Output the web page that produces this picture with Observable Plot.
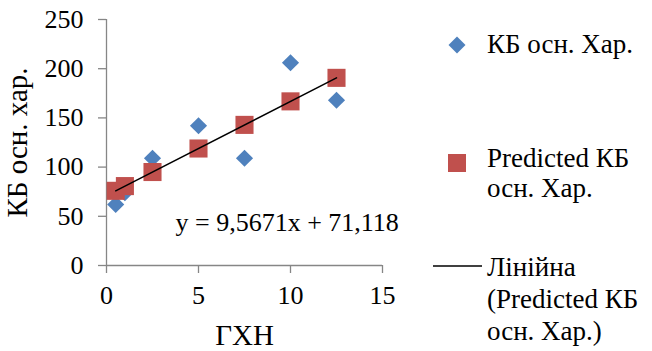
<!DOCTYPE html>
<html><head><meta charset="utf-8">
<script src="https://cdn.jsdelivr.net/npm/d3@7"></script>
<script src="https://cdn.jsdelivr.net/npm/@observablehq/plot@0.6"></script>
<style>
body{margin:0;background:#fff}
#chart svg{display:block}
#chart svg text{font-family:'Liberation Serif','Times New Roman',serif}
</style>
</head><body><div id="chart"></div>
<script>
const xValues = [0.5, 1, 2.5, 5, 7.5, 10, 12.5];
const actualValues = [62, 74, 109, 142, 109, 206, 168];
const predictedValues = [75.9, 80.7, 95.0, 118.9, 142.9, 166.8, 190.7];
const xTicks = [0, 5, 10, 15];
const yTicks = [0, 50, 100, 150, 200, 250];
const seriesNames = ["КБ осн. Хар.", "Predicted КБ осн. Хар.", "Лінійна (Predicted КБ осн. Хар.)"];
const legendLines = [["КБ осн. Хар."], ["Predicted КБ", "осн. Хар."], ["Лінійна", "(Predicted КБ", "осн. Хар.)"]];
const equationText = "y = 9,5671x + 71,118";
const xTitle = "ГХН";
const yTitle = "КБ осн. хар.";

const rows = xValues.map((x, i) => ({x, actual: actualValues[i], predicted: predictedValues[i]}));
const BLUE = "#4f81bd", RED = "#c0504d", AXIS = "#868686";
const FONT = "'Liberation Serif', 'Times New Roman', serif";

const chart = Plot.plot({
  width: 652, height: 351,
  marginLeft: 106, marginRight: 270, marginTop: 19, marginBottom: 86,
  style: {fontFamily: FONT, fontSize: "26px", color: "#000", background: "#fff", overflow: "visible"},
  x: {domain: [0, 15]},
  y: {domain: [0, 250]},
  marks: [
    Plot.axisX({ticks: xTicks, tickSize: 8, stroke: AXIS, strokeWidth: 1.3, strokeOpacity: 1, label: null, tickFormat: () => ""}),
    Plot.axisY({ticks: yTicks, tickSize: 8, stroke: AXIS, strokeWidth: 1.3, strokeOpacity: 1, label: null, tickFormat: () => ""}),
    Plot.text(xTicks, {x: d => d, text: d => String(d), frameAnchor: "bottom", dy: 20, textAnchor: "middle", lineAnchor: "top", fontSize: 26, fontFamily: FONT, fill: "#000"}),
    Plot.text(yTicks, {y: d => d, text: d => String(d), frameAnchor: "left", dx: -23, textAnchor: "end", lineAnchor: "middle", fontSize: 26, fontFamily: FONT, fill: "#000"}),
    Plot.ruleY([0], {stroke: AXIS, strokeWidth: 1.3}),
    Plot.ruleX([0], {stroke: AXIS, strokeWidth: 1.3}),
    Plot.dot(rows, {x: "x", y: "actual", symbol: "diamond2", r: 7.7, fill: BLUE, stroke: "none"}),
    Plot.dot(rows, {x: "x", y: "predicted", symbol: "square", r: 10.2, fill: RED, stroke: "none"}),
    Plot.linearRegressionY(rows, {x: "x", y: "predicted", stroke: "#000", strokeWidth: 1.5, ci: 0}),
    Plot.text([equationText], {x: 3.75, y: 44, text: d => d, textAnchor: "start", lineAnchor: "middle", fontSize: 26, fontFamily: FONT, fill: "#000"}),
    Plot.text([xTitle], {frameAnchor: "bottom", dy: 70, text: d => d, textAnchor: "middle", lineAnchor: "middle", fontSize: 29, fontFamily: FONT, fill: "#000"}),
    Plot.text([yTitle], {frameAnchor: "left", dx: -89, rotate: -90, text: d => d, textAnchor: "middle", lineAnchor: "middle", fontSize: 29, fontFamily: FONT, fill: "#000"})
  ]
});
document.getElementById("chart").appendChild(chart);

// Legend
const svg = d3.select(chart);
const lg = svg.append("g").attr("font-family", FONT).attr("font-size", 27).attr("fill", "#000").attr("text-anchor", "start");
const textX = 487;
const baselines = [[53], [167, 197], [276, 308, 340]];
lg.append("path").attr("d", d3.symbol(d3.symbolDiamond2, 185)()).attr("transform", "translate(457,45)").attr("fill", BLUE);
lg.append("path").attr("d", d3.symbol(d3.symbolSquare, 324)()).attr("transform", "translate(457,163)").attr("fill", RED);
lg.append("line").attr("x1", 433).attr("x2", 482).attr("y1", 266).attr("y2", 266).attr("stroke", "#000").attr("stroke-width", 1.5);
legendLines.forEach((lines, i) => {
  lines.forEach((t, j) => {
    lg.append("text").attr("x", textX).attr("y", baselines[i][j]).attr("text-anchor", "start").text(t);
  });
});
</script>
</body></html>
